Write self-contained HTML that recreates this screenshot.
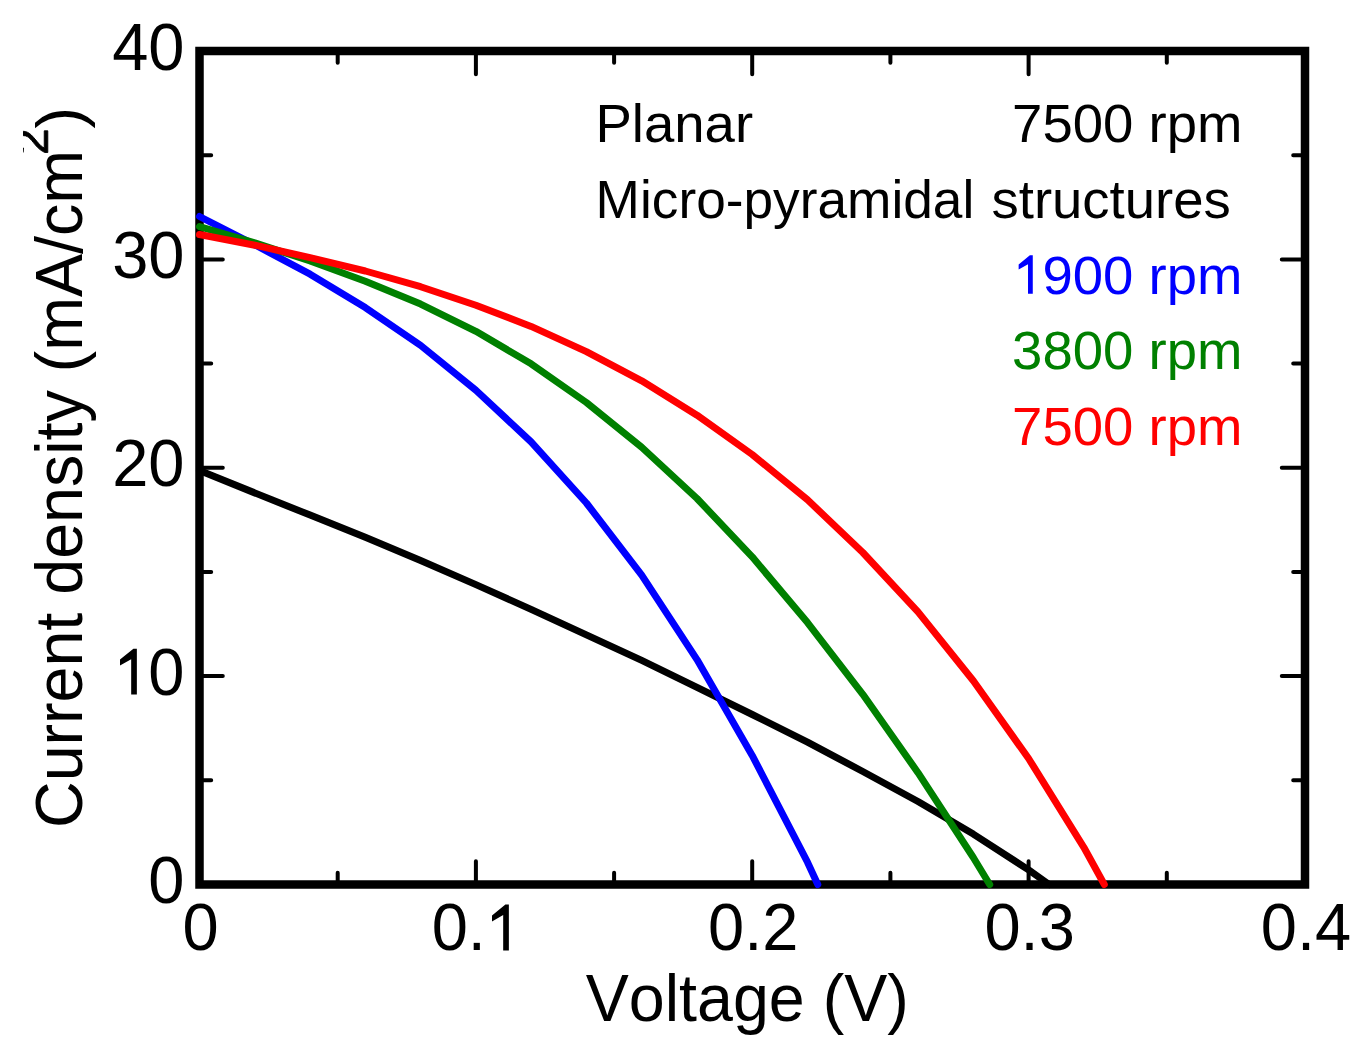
<!DOCTYPE html>
<html><head><meta charset="utf-8"><title>J-V curves</title>
<style>html,body{margin:0;padding:0;background:#fff;width:1367px;height:1052px;overflow:hidden}</style>
</head><body>
<svg width="1367" height="1052" viewBox="0 0 1367 1052" style="display:block">
<defs><clipPath id="c"><rect x="23" y="0" width="1344" height="1052"/></clipPath></defs>
<rect x="199.5" y="51.0" width="1105.5" height="833.5" fill="none" stroke="#000" stroke-width="8.5"/><path d="M201.8,780.3H211.2M1302.8,780.3H1293.2M201.8,676.1H222.8M1302.8,676.1H1281.8M201.8,571.9H211.2M1302.8,571.9H1293.2M201.8,467.8H222.8M1302.8,467.8H1281.8M201.8,363.6H211.2M1302.8,363.6H1293.2M201.8,259.4H222.8M1302.8,259.4H1281.8M201.8,155.2H211.2M1302.8,155.2H1293.2M337.7,882.2V872.8M337.7,53.2V62.8M475.9,882.2V861.2M475.9,53.2V74.2M614.1,882.2V872.8M614.1,53.2V62.8M752.2,882.2V861.2M752.2,53.2V74.2M890.4,882.2V872.8M890.4,53.2V62.8M1028.6,882.2V861.2M1028.6,53.2V74.2M1166.8,882.2V872.8M1166.8,53.2V62.8" stroke="#000" stroke-width="4" stroke-linecap="round" fill="none"/><polyline points="199.5,470.5 254.8,492.9 310.1,515.1 365.3,537.3 420.6,560.5 475.9,584.6 531.1,609.4 586.4,634.9 641.7,660.4 697.0,687.3 752.2,714.5 807.5,742.2 862.8,771.5 918.0,801.5 973.3,834.1 1028.6,869.9 1049.2,884.5" fill="none" stroke="#000" stroke-width="7" stroke-linejoin="round" stroke-linecap="round"/><polyline points="199.5,216.5 254.8,244.8 310.1,274.2 365.3,307.6 420.6,345.4 475.9,390.2 531.1,441.9 586.4,503.0 641.7,575.1 697.0,659.6 752.2,755.4 807.5,862.2 817.8,884.5" fill="none" stroke="#0000ff" stroke-width="7" stroke-linejoin="round" stroke-linecap="round"/><polyline points="199.5,226.6 254.8,242.9 310.1,261.0 365.3,281.2 420.6,304.1 475.9,331.3 531.1,363.8 586.4,402.5 641.7,447.2 697.0,498.5 752.2,556.8 807.5,622.6 862.8,694.3 918.0,772.7 973.3,857.5 989.7,884.5" fill="none" stroke="#008000" stroke-width="7" stroke-linejoin="round" stroke-linecap="round"/><polyline points="199.5,234.5 254.8,245.2 310.1,257.7 365.3,271.0 420.6,286.7 475.9,305.3 531.1,326.4 586.4,351.6 641.7,380.8 697.0,415.2 752.2,454.5 807.5,499.8 862.8,552.5 918.0,611.9 973.3,680.7 1028.6,758.5 1083.8,847.3 1104.3,884.5" fill="none" stroke="#ff0000" stroke-width="7" stroke-linejoin="round" stroke-linecap="round"/>
<g font-family="'Liberation Sans', sans-serif" fill="#000" clip-path="url(#c)" style="font-kerning:none">
<text transform="translate(184.50,903.00) scale(1.0,1.022)" font-size="65" text-anchor="end">0</text><path d="M777 0H598V1112L246 914V1103L668 1449H777Z" transform="translate(112.20,694.62) scale(0.03174,-0.03174)"/><text transform="translate(184.50,694.62) scale(1.0,1.022)" font-size="65" text-anchor="end">0</text><text transform="translate(184.50,486.25) scale(1.0,1.022)" font-size="65" text-anchor="end">20</text><text transform="translate(184.50,277.88) scale(1.0,1.022)" font-size="65" text-anchor="end">30</text><text transform="translate(184.50,69.50) scale(1.0,1.022)" font-size="65" text-anchor="end">40</text><text transform="translate(200.50,950.40) scale(1.0,1.022)" font-size="65" text-anchor="middle">0</text><text transform="translate(431.70,950.40) scale(1.0,1.022)" font-size="65">0.</text><path d="M777 0H598V1112L246 914V1103L668 1449H777Z" transform="translate(484.20,950.40) scale(0.03174,-0.03174)"/><text transform="translate(753.25,950.40) scale(1.0,1.022)" font-size="65" text-anchor="middle">0.2</text><text transform="translate(1029.62,950.40) scale(1.0,1.022)" font-size="65" text-anchor="middle">0.3</text><text transform="translate(1306.00,950.40) scale(1.0,1.022)" font-size="65" text-anchor="middle">0.4</text><text transform="translate(585.70,1020.70) scale(1.0,1.027)" font-size="64.6">Voltage (V)</text><text transform="translate(82.2,827.9) rotate(-90) scale(1,1.02)" font-size="64.55">Current density (mA/cm</text><path d="M103 0V127Q154 244 227.5 333.5Q301 423 382.0 495.5Q463 568 542.5 630.0Q622 692 686.0 754.0Q750 816 789.5 884.0Q829 952 829 1038Q829 1154 761.0 1218.0Q693 1282 572 1282Q457 1282 382.5 1219.5Q308 1157 295 1044L111 1061Q131 1230 254.5 1330.0Q378 1430 572 1430Q785 1430 899.5 1329.5Q1014 1229 1014 1044Q1014 962 976.5 881.0Q939 800 865.0 719.0Q791 638 582 468Q467 374 399.0 298.5Q331 223 301 153H1036V0Z" transform="translate(47.8,154.9) rotate(-90) scale(0.02324,-0.02324)" stroke="#000" stroke-width="38.7"/><text transform="translate(82.2,128.5) rotate(-90) scale(1,1.001)" font-size="64.55">)</text><text transform="translate(595.50,141.70) scale(1.0,1.0)" font-size="54.5">Planar</text><text transform="translate(1012.10,141.70) scale(1.0,1.0)" font-size="54.5">7500 rpm</text><text x="595.6" y="217.8" font-size="54.5" textLength="378.7" lengthAdjust="spacingAndGlyphs">Micro-pyramidal</text><text transform="translate(991.50,217.80) scale(1.0,1.0)" font-size="54.5">structures</text><path d="M777 0H598V1112L246 914V1103L668 1449H777Z" transform="translate(1012.10,293.80) scale(0.02661,-0.02661)" fill="#0000ff"/><text transform="translate(1042.41,293.80) scale(1.0,1.0)" font-size="54.5" fill="#0000ff">900 rpm</text><text transform="translate(1012.10,369.30) scale(1.0,1.0)" font-size="54.5" fill="#008000">3800 rpm</text><text transform="translate(1012.10,445.10) scale(1.0,1.0)" font-size="54.5" fill="#ff0000">7500 rpm</text>
</g>
</svg>
</body></html>
